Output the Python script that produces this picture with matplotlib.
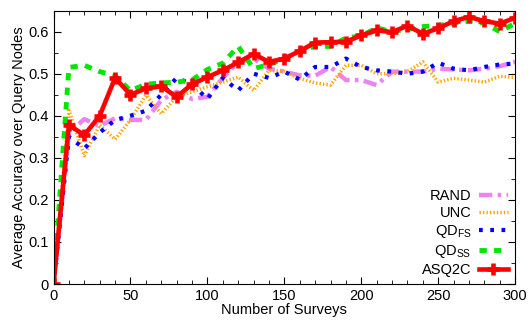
import numpy as np
import matplotlib
matplotlib.use("Agg")
import matplotlib.pyplot as plt
from matplotlib.ticker import MultipleLocator

plt.rcParams['font.family'] = ['Liberation Sans', 'DejaVu Sans']
plt.rcParams['mathtext.fontset'] = 'custom'
plt.rcParams['mathtext.rm'] = 'Liberation Sans'
plt.rcParams['mathtext.it'] = 'Liberation Sans'

# number of surveys, one point every 10
surveys = list(range(0, 301, 10))

rand_acc = [0, 0.36, 0.392, 0.376, 0.394, 0.39, 0.39, 0.437, 0.457, 0.44, 0.445,
            0.49, 0.528, 0.536, 0.512, 0.505, 0.496, 0.495, 0.516, 0.485, 0.485,
            0.473, 0.505, 0.505, 0.505, 0.512, 0.51, 0.508, 0.512, 0.518, 0.528]
unc_acc = [0, 0.413, 0.305, 0.378, 0.344, 0.39, 0.449, 0.405, 0.445, 0.457, 0.469,
           0.48, 0.492, 0.46, 0.508, 0.505, 0.489, 0.478, 0.473, 0.52, 0.52,
           0.50, 0.50, 0.505, 0.528, 0.48, 0.489, 0.485, 0.48, 0.494, 0.491]
qdfs_acc = [0, 0.35, 0.322, 0.36, 0.39, 0.40, 0.412, 0.45, 0.49, 0.475, 0.44,
            0.49, 0.46, 0.50, 0.49, 0.505, 0.486, 0.516, 0.516, 0.536, 0.516,
            0.508, 0.505, 0.50, 0.505, 0.526, 0.512, 0.508, 0.516, 0.522, 0.524]
qdss_acc = [0, 0.515, 0.52, 0.505, 0.495, 0.46, 0.475, 0.478, 0.48, 0.485, 0.51,
            0.525, 0.565, 0.512, 0.522, 0.535, 0.555, 0.565, 0.565, 0.585, 0.59,
            0.609, 0.60, 0.605, 0.612, 0.615, 0.62, 0.625, 0.62, 0.60, 0.62]
asq2c_acc = [0, 0.378, 0.354, 0.40, 0.49, 0.45, 0.465, 0.47, 0.445, 0.475, 0.492,
             0.508, 0.527, 0.547, 0.528, 0.536, 0.554, 0.574, 0.575, 0.576, 0.591,
             0.603, 0.599, 0.614, 0.595, 0.608, 0.625, 0.635, 0.625, 0.619, 0.633]

fig = plt.figure(figsize=(5.30, 3.22), dpi=100)
ax = fig.add_axes([0.101, 0.118, 0.871, 0.849])

ax.plot(surveys, rand_acc, color='violet', lw=3.2, dashes=(3, 1.2, 0.8, 1.2), label='RAND')
ax.plot(surveys, unc_acc, color='orange', lw=2.5, dashes=(0.4, 0.6), label='UNC')
ax.plot(surveys, qdfs_acc, color='blue', lw=3, dashes=(0.9, 1.8), label=r'QD$_{\mathrm{FS}}$')
ax.plot(surveys, qdss_acc, color='#00e600', lw=3.5, dashes=(1.5, 1.5), label=r'QD$_{\mathrm{SS}}$')
ax.plot(surveys, asq2c_acc, color='red', lw=3.3, marker='+', ms=8.5, mew=3.3,
        label='ASQ2C')

ax.set_xlim(0, 300)
ax.set_ylim(0, 0.65)
ax.xaxis.set_major_locator(MultipleLocator(50))
ax.xaxis.set_minor_locator(MultipleLocator(10))
ax.yaxis.set_minor_locator(MultipleLocator(0.05))
ax.set_yticks([0, 0.1, 0.2, 0.3, 0.4, 0.5, 0.6])
ax.set_yticklabels(['0', '0.1', '0.2', '0.3', '0.4', '0.5', '0.6'])
ax.tick_params(which='both', direction='in', top=True, right=True, labelsize=10.5)
ax.tick_params(which='major', length=5)
ax.tick_params(which='minor', length=3)
ax.set_xlabel('Number of Surveys', fontsize=10.5, labelpad=0)
ax.set_ylabel('Average Accuracy over Query Nodes', fontsize=10.5, labelpad=2)

ax.legend(loc='lower right', frameon=False, markerfirst=False, numpoints=1,
          fontsize=10.5, handlelength=2.0, labelspacing=0.2, borderaxespad=0.1,
          handletextpad=0.5)

fig.savefig('out.png', dpi=100)
